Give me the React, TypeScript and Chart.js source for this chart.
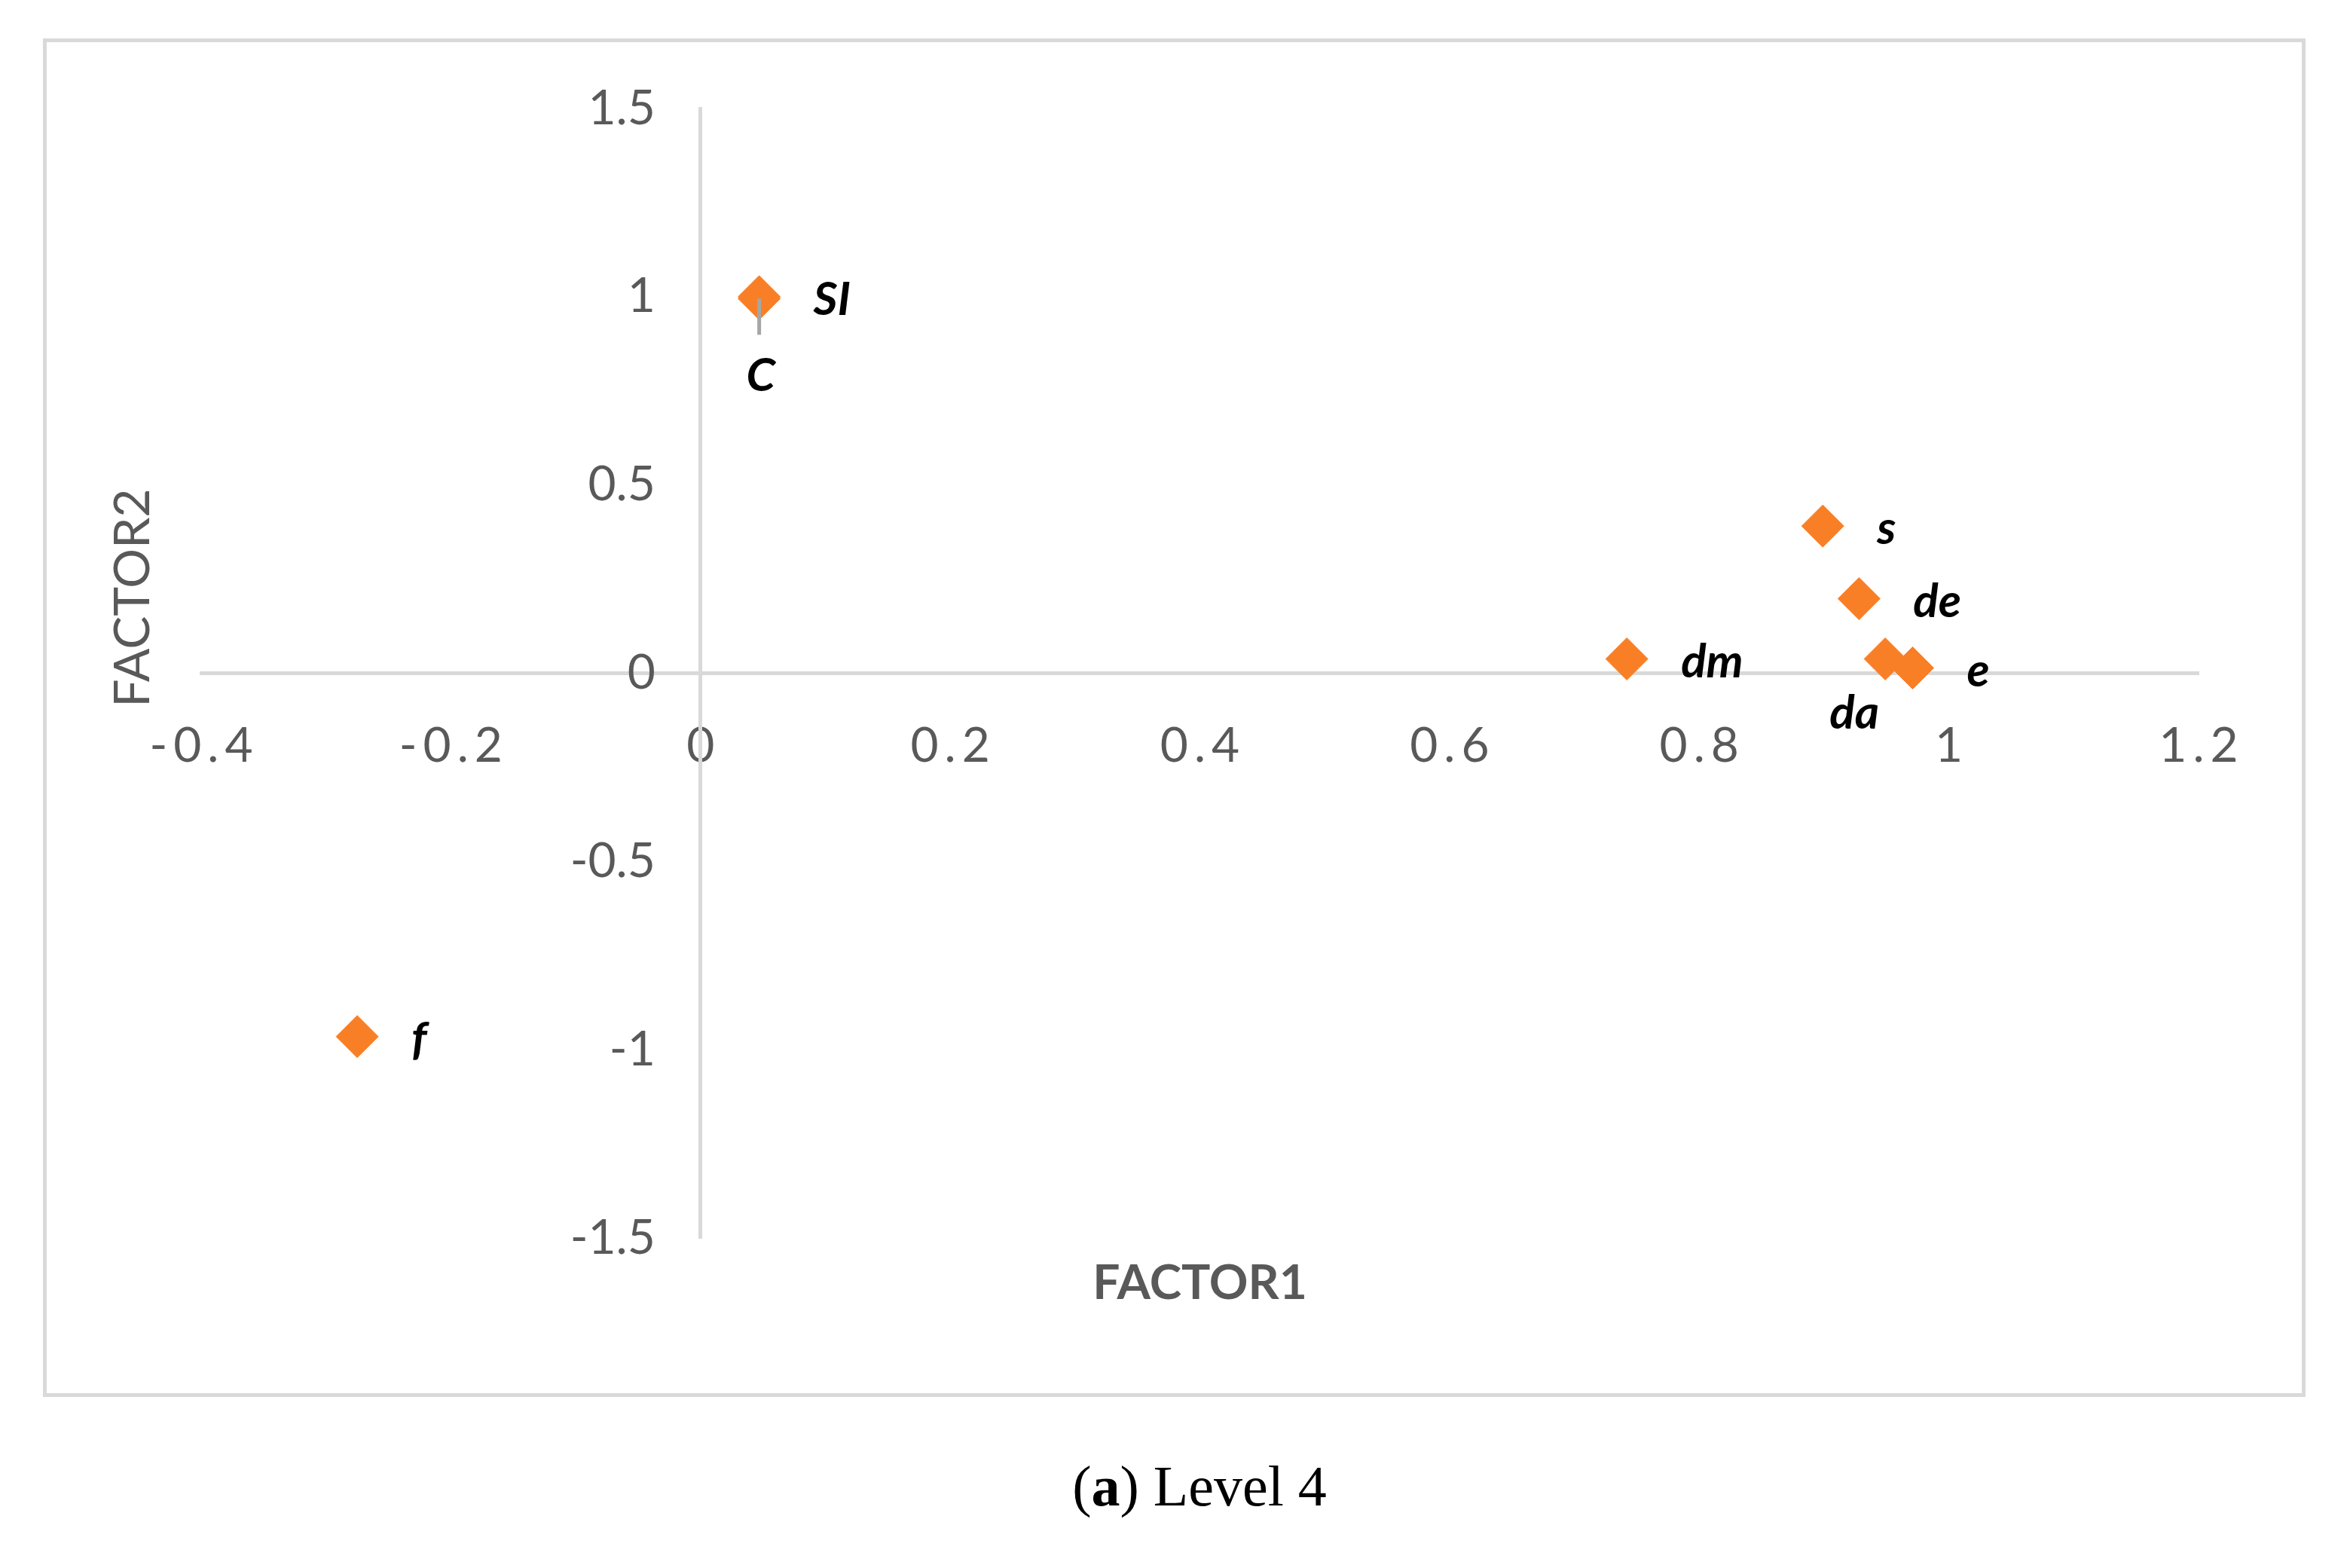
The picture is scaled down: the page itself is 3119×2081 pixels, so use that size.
import React, { useEffect, useRef } from 'react';
import { Chart, registerables } from 'chart.js';

Chart.register(...registerables);

// ---- data ----
const pointNames = ['SI', 'C', 's', 'de', 'dm', 'da', 'e', 'f'];
const factor1Values = [0.047, 0.047, 0.899, 0.928, 0.742, 0.949, 0.971, -0.275];
const factor2Values = [1.0, 0.995, 0.391, 0.198, 0.038, 0.038, 0.014, -0.965];
const labelPlacement = ['right', 'below', 'right', 'right', 'right', 'belowLeft', 'right', 'right'];
const xAxisTitle = 'FACTOR1';
const yAxisTitle = 'FACTOR2';
const captionLetter = 'a';
const captionText = ' Level 4';

const W = 3119;
const H = 2081;
const ORANGE = '#F97F26';
const AXIS_GRAY = '#D9D9D9';
const TEXT_GRAY = '#595959';

const fmt = (v: number) => String(Math.round(v * 10) / 10);

const labelsPlugin = {
  id: 'pointLabelsAndTitles',
  afterDatasetsDraw(chart: any) {
    const ctx = chart.ctx;
    const meta = chart.getDatasetMeta(0);
    const xs = chart.scales.x;
    const ys = chart.scales.y;
    const area = chart.chartArea;
    ctx.save();
    // leader lines
    meta.data.forEach((el: any, i: number) => {
      if (labelPlacement[i] === 'below') {
        ctx.strokeStyle = '#A6A6A6';
        ctx.lineWidth = 5;
        ctx.beginPath();
        ctx.moveTo(el.x, el.y);
        ctx.lineTo(el.x, el.y + 48);
        ctx.stroke();
      }
    });
    // point labels
    ctx.font = 'italic bold 62px Lato';
    ctx.fillStyle = '#000000';
    ctx.textBaseline = 'middle';
    meta.data.forEach((el: any, i: number) => {
      const p = labelPlacement[i];
      if (p === 'right') {
        ctx.textAlign = 'left';
        ctx.fillText(pointNames[i], el.x + 72, el.y + 4);
      } else if (p === 'below') {
        ctx.textAlign = 'center';
        ctx.fillText(pointNames[i], el.x + 2, el.y + 103);
      } else {
        ctx.textAlign = 'center';
        ctx.fillText(pointNames[i], el.x - 41, el.y + 72);
      }
    });
    // axis titles
    ctx.fillStyle = TEXT_GRAY;
    ctx.font = 'bold 64px Lato';
    ctx.textAlign = 'center';
    ctx.fillText(xAxisTitle, xs.getPixelForValue(0.4), area.bottom + 60);
    ctx.save();
    ctx.translate(area.left - 90, ys.getPixelForValue(0.2));
    ctx.rotate(-Math.PI / 2);
    ctx.font = '66px Lato';
    ctx.fillText(yAxisTitle, 0, 0);
    ctx.restore();
    ctx.restore();
  },
};

export default function App() {
  const canvasRef = useRef<HTMLCanvasElement | null>(null);

  useEffect(() => {
    if (!canvasRef.current) return;
    const data = factor1Values.map((x, i) => ({ x, y: factor2Values[i] }));
    const chart = new Chart(canvasRef.current, {
      type: 'scatter',
      data: {
        datasets: [
          {
            label: 'points',
            data,
            pointStyle: 'rectRot',
            pointRadius: 28,
            pointHoverRadius: 28,
            backgroundColor: ORANGE,
            borderColor: ORANGE,
            borderWidth: 1,
          },
        ],
      },
      options: {
        animation: false,
        responsive: false,
        maintainAspectRatio: false,
        events: [],
        layout: { padding: { left: 267, right: W - 2918, top: 144, bottom: H - 1643 } },
        plugins: { legend: { display: false }, tooltip: { enabled: false } },
        scales: {
          x: {
            type: 'linear',
            min: -0.4,
            max: 1.2,
            position: { y: 0 } as any,
            grid: { display: false, drawTicks: false },
            border: { display: true, color: AXIS_GRAY, width: 5 },
            ticks: {
              stepSize: 0.2,
              autoSkip: false,
              maxRotation: 0,
              minRotation: 0,
              padding: 58,
              color: TEXT_GRAY,
              font: { family: 'Lato', size: 64 },
              callback: (v: any) => fmt(Number(v)).split('').join('\u2009'),
            },
          },
          y: {
            type: 'linear',
            min: -1.5,
            max: 1.5,
            position: { x: 0 } as any,
            grid: { display: false, drawTicks: false },
            border: { display: true, color: AXIS_GRAY, width: 5 },
            ticks: {
              stepSize: 0.5,
              autoSkip: false,
              padding: 66,
              color: TEXT_GRAY,
              font: { family: 'Lato', size: 64 },
              // trailing spaces keep the label clear of the axis line
              callback: (v: any) => fmt(Number(v)) + '\u2003\u2009\u200A',
            },
          },
        },
      },
      plugins: [labelsPlugin],
    });
    return () => chart.destroy();
  }, []);

  return (
    <div style={{ position: 'absolute', left: 0, top: 0, width: W, height: H, background: '#ffffff', overflow: 'hidden' }}>
      <div
        style={{
          position: 'absolute',
          left: 57,
          top: 51,
          width: 3060 - 57,
          height: 1854 - 51,
          border: `5px solid ${AXIS_GRAY}`,
          boxSizing: 'border-box',
        }}
      />
      <canvas
        ref={canvasRef}
        width={W}
        height={H}
        style={{ position: 'absolute', left: 0, top: 0, width: W, height: H }}
      />
      <div
        style={{
          position: 'absolute',
          left: 1300,
          top: 1934,
          width: 584,
          textAlign: 'center',
          fontFamily: '"Liberation Serif", "Times New Roman", serif',
          fontSize: 76,
          lineHeight: '76px',
          color: '#000',
          whiteSpace: 'nowrap',
        }}
      >
        (<b>{captionLetter}</b>){captionText}
      </div>
    </div>
  );
}
